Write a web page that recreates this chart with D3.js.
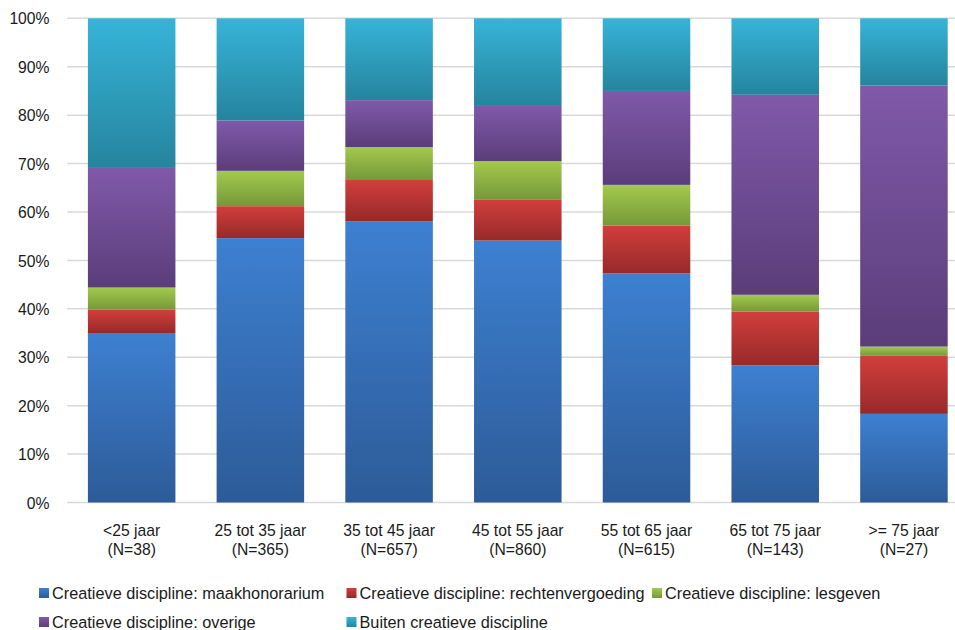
<!DOCTYPE html>
<html>
<head>
<meta charset="utf-8">
<script src="https://cdn.jsdelivr.net/npm/d3@7"></script>
<style>
  html, body { margin: 0; padding: 0; background: #ffffff; }
  svg { display: block; font-family: "Liberation Sans", Arial, sans-serif; }
</style>
</head>
<body>
<svg id="chart" width="955" height="630"></svg>
<script>
const categories = ["<25 jaar|(N=38)", "25 tot 35 jaar|(N=365)", "35 tot 45 jaar|(N=657)", "45 tot 55 jaar|(N=860)", "55 tot 65 jaar|(N=615)", "65 tot 75 jaar|(N=143)", ">= 75 jaar|(N=27)"];
const seriesNames = ["Creatieve discipline: maakhonorarium", "Creatieve discipline: rechtenvergoeding", "Creatieve discipline: lesgeven", "Creatieve discipline: overige", "Buiten creatieve discipline"];
const maakhonorarium = [35.0, 54.6, 58.1, 54.1, 47.3, 28.3, 18.3];
const rechtenvergoeding = [4.8, 6.6, 8.5, 8.4, 9.9, 11.1, 12.0];
const lesgeven = [4.6, 7.3, 6.8, 8.0, 8.4, 3.5, 1.9];
const overige = [24.7, 10.4, 9.7, 11.4, 19.4, 41.3, 53.9];
const buiten = [30.9, 21.1, 16.9, 18.1, 15.0, 15.8, 13.9];
const yTicks = [0, 0.1, 0.2, 0.3, 0.4, 0.5, 0.6, 0.7, 0.8, 0.9, 1.0];

const seriesValues = [maakhonorarium, rechtenvergoeding, lesgeven, overige, buiten];
const gradColors = [
  ["#3d80d1", "#2d5b98"],
  ["#d13f3c", "#97292a"],
  ["#a3ca4c", "#76983a"],
  ["#8059a9", "#5b3d7a"],
  ["#37b4d8", "#25849e"]
];

const svg = d3.select("#chart");
const defs = svg.append("defs");
gradColors.forEach((c, i) => {
  const g = defs.append("linearGradient").attr("id", "grad" + i)
    .attr("x1", 0).attr("y1", 0).attr("x2", 0).attr("y2", 1);
  g.append("stop").attr("offset", "0%").attr("stop-color", c[0]);
  g.append("stop").attr("offset", "100%").attr("stop-color", c[1]);
});

const table = categories.map((c, i) => {
  const row = { cat: c };
  seriesNames.forEach((s, j) => { row[s] = seriesValues[j][i]; });
  return row;
});
const stacked = d3.stack().keys(seriesNames)
  .offset(d3.stackOffsetExpand)(table);

const x = d3.scaleBand().domain(categories).range([67.3, 968.3])
  .paddingInner(0.32).paddingOuter(0.16);
const y = d3.scaleLinear().domain([0, 1]).range([502.5, 18.3]);

// gridlines
svg.append("g").selectAll("line").data(yTicks).join("line")
  .attr("x1", 67.3).attr("x2", 955)
  .attr("y1", d => y(d)).attr("y2", d => y(d))
  .attr("stroke", "#d9d9d9").attr("stroke-width", 1.5);

// y axis labels
const yAxis = d3.axisLeft(y).tickValues(yTicks).tickSize(0).tickPadding(0)
  .tickFormat(d3.format(".0%"));
const ya = svg.append("g").attr("transform", "translate(49.5,0)").call(yAxis);
ya.select(".domain").remove();
ya.selectAll("text").attr("font-size", "15.7px").attr("fill", "#1a1a1a")
  .attr("font-family", "Liberation Sans, Arial, sans-serif").attr("dy", "0.36em");

// bars
svg.append("g").selectAll("g").data(stacked).join("g")
  .attr("fill", (d, i) => `url(#grad${i})`)
  .selectAll("rect").data(d => d).join("rect")
  .attr("x", d => x(d.data.cat))
  .attr("width", x.bandwidth())
  .attr("y", d => y(d[1]))
  .attr("height", d => y(d[0]) - y(d[1]));

// x axis labels
const xAxis = d3.axisBottom(x).tickSize(0).tickPadding(0).tickFormat("");
const xa = svg.append("g").attr("transform", "translate(0,502.5)").call(xAxis);
xa.select(".domain").remove();
xa.selectAll(".tick").each(function(d) {
  const parts = d.split("|");
  const t = d3.select(this).append("text")
    .attr("text-anchor", "middle").attr("fill", "#1a1a1a")
    .attr("font-size", "15.7px").attr("font-family", "Liberation Sans, Arial, sans-serif");
  parts.forEach((p, k) => {
    t.append("tspan").attr("x", 0).attr("y", 33 + k * 19).text(p);
  });
});

// legend
const legendPos = [[39, 588], [346.5, 588], [652, 588], [39, 617], [346.5, 617]];
const lg = svg.append("g").selectAll("g").data(seriesNames).join("g")
  .attr("transform", (d, i) => `translate(${legendPos[i][0]},${legendPos[i][1]})`);
lg.append("rect").attr("width", 10).attr("height", 10)
  .attr("fill", (d, i) => `url(#grad${i})`);
lg.append("text").attr("x", 13).attr("y", 10.5)
  .attr("font-size", "16.3px").attr("fill", "#1a1a1a")
  .attr("font-family", "Liberation Sans, Arial, sans-serif")
  .text(d => d);
</script>
</body>
</html>
